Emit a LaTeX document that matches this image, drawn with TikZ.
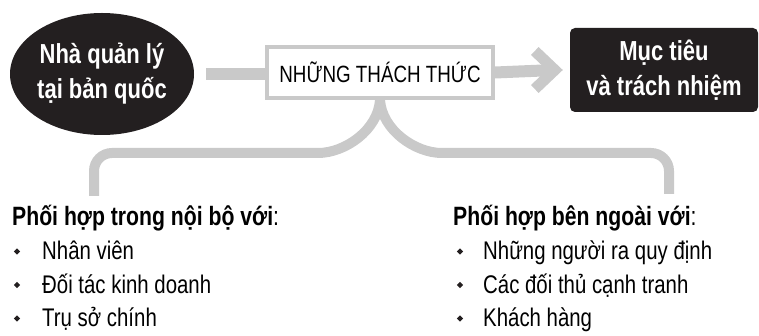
\documentclass[tikz,border=0pt]{standalone}
\usepackage{fontspec}
\setmainfont{Liberation Sans}[FakeStretch=0.8]
\usetikzlibrary{shapes.geometric}
\definecolor{barg}{HTML}{C9C9C9}
\definecolor{ink}{HTML}{231F20}

\begin{document}
\begin{tikzpicture}[x=1pt,y=-1pt,
  bar/.style={draw=barg, line width=12pt},
  darknode/.style={fill=ink, text=white, align=center, inner sep=0pt, font=\fontsize{27.5}{35}\selectfont\bfseries},
  item/.style={anchor=base west, inner sep=0pt, font=\fontsize{25.5}{34}\selectfont},
  head/.style={item, font=\fontsize{26.5}{34}\selectfont\bfseries},
  dot/.style={diamond, fill=ink, inner sep=0pt, minimum size=6.5pt}]

\useasboundingbox (0,0) rectangle (759,336);

\node[darknode, ellipse, minimum width=184pt, minimum height=122pt] (mgr) at (102,74) {Nhà quản lý\\tại bản quốc};
\node[draw=barg, line width=4pt, minimum width=226pt, minimum height=51pt, inner sep=0pt, font=\fontsize{23.5}{25}\selectfont] (chal) at (380,72.5) {NHỮNG THÁCH THỨC};
\node[darknode, rounded corners=5pt, minimum width=188pt, minimum height=84pt] (goal) at (664,70) {Mục tiêu\\và trách nhiệm};

% connectors
\draw[bar, shorten <=12pt] (mgr.east) -- (mgr.east -| chal.west);
\draw[bar] (chal.east) -- ([xshift=-15pt]goal.west);
\draw[draw=barg, line width=11pt] ([xshift=-35pt,yshift=19pt]goal.west) -- ([xshift=-15pt]goal.west) -- ([xshift=-35pt,yshift=-19pt]goal.west);

% brace
\draw[draw=barg, line width=10pt, rounded corners=18pt] (chal.south) .. controls (378,130) and (345,153) .. (300,153) -- (94,153) -- (94,196);
\draw[draw=barg, line width=10pt, rounded corners=18pt] (chal.south) .. controls (382,130) and (415,153) .. (460,153) -- (669,153) -- (669,194);

\node[head] (inhead) at (12,226) {Phối hợp trong nội bộ với{\mdseries:}};
\foreach \txt [count=\i] in {Nhân viên, Đối tác kinh doanh, Trụ sở chính} {
  \node[item] (in\i) at (42,226+33.5*\i) {\txt};
  \node[dot] at (17,218+33.5*\i) {};
}

\node[head] (exhead) at (453,226) {Phối hợp bên ngoài với{\mdseries:}};
\foreach \txt [count=\i] in {Những người ra quy định, Các đối thủ cạnh tranh, Khách hàng} {
  \node[item] (ex\i) at (483,226+33.5*\i) {\txt};
  \node[dot] at (460,218+33.5*\i) {};
}

\end{tikzpicture}
\end{document}
